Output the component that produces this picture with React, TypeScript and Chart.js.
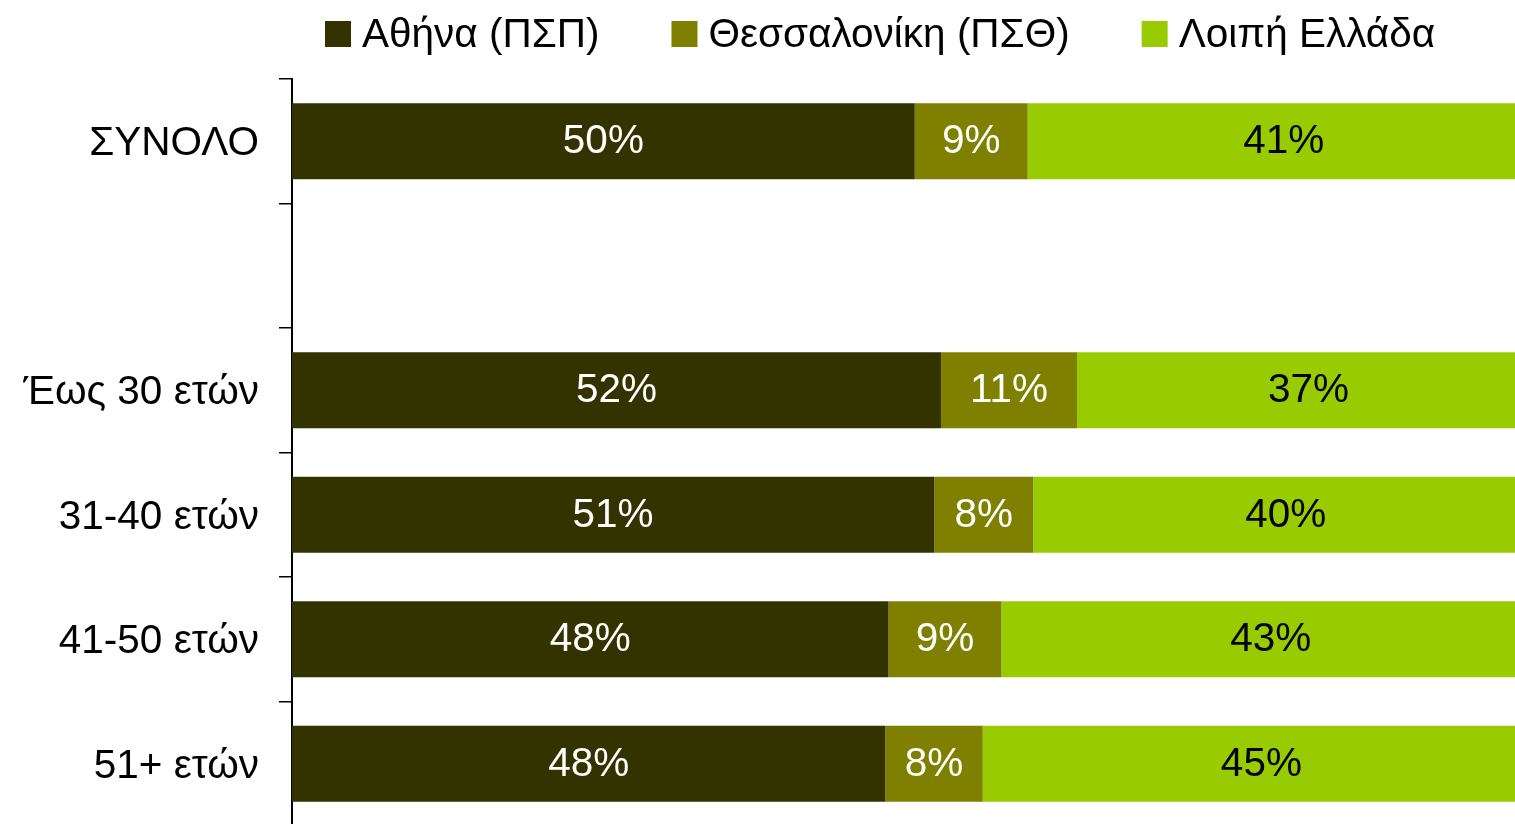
import React, { useEffect, useRef } from "react";
import { Chart, registerables } from "chart.js";

Chart.register(...registerables);

const categories = ["ΣΥΝΟΛΟ", "", "Έως 30 ετών", "31-40 ετών", "41-50 ετών", "51+ ετών"];
const seriesNames = ["Αθήνα (ΠΣΠ)", "Θεσσαλονίκη (ΠΣΘ)", "Λοιπή Ελλάδα"];
const athens = [49.9, null, 52.0, 51.45, 47.8, 47.55];
const thessaloniki = [9.05, null, 10.9, 7.95, 9.05, 7.8];
const restOfGreece = [41.05, null, 37.1, 40.45, 43.15, 44.65];

const colors = ["#333300", "#808000", "#99CC00"];
const labelColors = ["#ffffff", "#ffffff", "#000000"];
const FONT = "'Liberation Sans', Arial, sans-serif";
const FONT_SIZE = 40.5;

const legendPlugin = {
  id: "customLegend",
  afterDraw(chart: any) {
    const ctx = chart.ctx;
    ctx.save();
    ctx.font = `${FONT_SIZE}px ${FONT}`;
    ctx.textBaseline = "middle";
    ctx.textAlign = "left";
    let x = 325;
    const cy = 34;
    const box = 26;
    chart.data.datasets.forEach((ds: any) => {
      ctx.fillStyle = ds.backgroundColor;
      ctx.fillRect(x, cy - box / 2, box, box);
      x += box + 11;
      ctx.fillStyle = "#000";
      ctx.fillText(ds.label, x, cy + 2);
      x += ctx.measureText(ds.label).width + 72;
    });
    ctx.restore();
  },
};

const dataLabelPlugin = {
  id: "dataLabels",
  afterDatasetsDraw(chart: any) {
    const ctx = chart.ctx;
    ctx.save();
    ctx.font = `${FONT_SIZE}px ${FONT}`;
    ctx.textAlign = "center";
    ctx.textBaseline = "middle";
    chart.data.datasets.forEach((ds: any, di: number) => {
      const meta = chart.getDatasetMeta(di);
      meta.data.forEach((bar: any, i: number) => {
        const v = ds.data[i];
        if (v === null || v === undefined) return;
        const cx = (bar.x + bar.base) / 2;
        ctx.fillStyle = labelColors[di];
        ctx.fillText(`${Math.round(v)}%`, cx, bar.y + 1);
      });
    });
    ctx.restore();
  },
};

export default function App() {
  const ref = useRef<HTMLCanvasElement>(null);
  useEffect(() => {
    if (!ref.current) return;
    const chart = new Chart(ref.current, {
      type: "bar",
      data: {
        labels: categories,
        datasets: [athens, thessaloniki, restOfGreece].map((d, i) => ({
          label: seriesNames[i],
          data: d,
          backgroundColor: colors[i],
          borderWidth: 0,
          barPercentage: 0.61,
          categoryPercentage: 1,
        })),
      },
      options: {
        indexAxis: "y",
        animation: false,
        responsive: false,
        layout: { padding: { top: 79, bottom: 4, left: 0, right: 0 } },
        plugins: { legend: { display: false }, tooltip: { enabled: false } },
        scales: {
          x: { display: false, stacked: true, min: 0, max: 100 },
          y: {
            stacked: true,
            afterFit(scale: any) {
              scale.width = 292;
              scale.paddingTop = 0;
              scale.paddingBottom = 0;
            },
            grid: {
              drawOnChartArea: false,
              drawTicks: true,
              tickLength: 13,
              color: "#000",
              lineWidth: 1.5,
            },
            border: { display: true, color: "#000", width: 2 },
            ticks: {
              color: "#000",
              padding: 20,
              labelOffset: 3,
              font: { family: FONT, size: FONT_SIZE },
            },
          },
        },
      },
      plugins: [legendPlugin, dataLabelPlugin],
    });
    return () => chart.destroy();
  }, []);
  return (
    <div style={{ position: "fixed", left: 0, top: 0, width: 1540, height: 830, background: "#fff" }}>
      <canvas ref={ref} width={1540} height={830} />
    </div>
  );
}
